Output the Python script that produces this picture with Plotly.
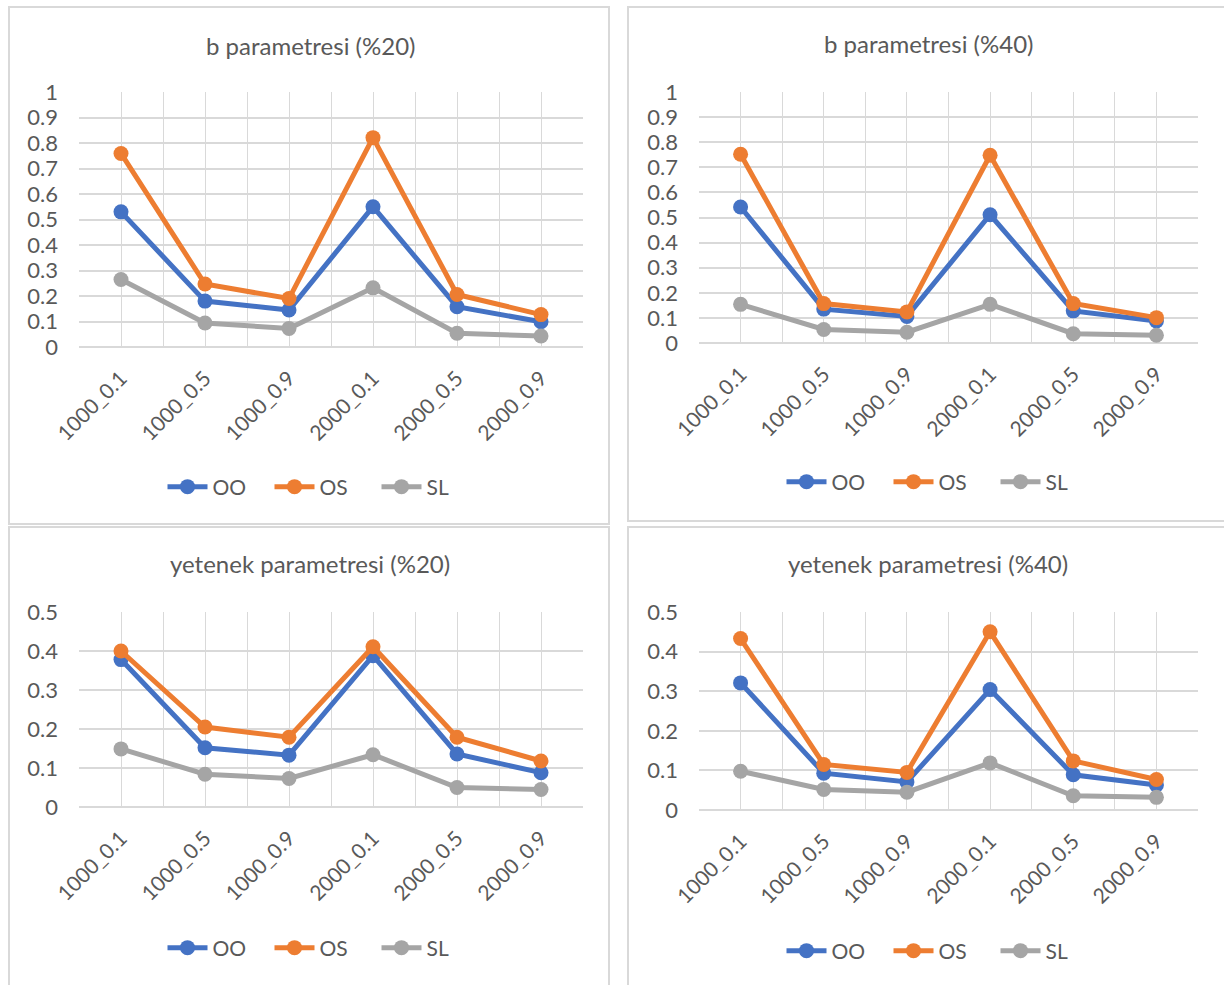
import plotly.graph_objects as go

# Sample size / ratio combinations on the x axis
categories = ["1000_0.1", "1000_0.5", "1000_0.9", "2000_0.1", "2000_0.5", "2000_0.9"]
series_names = ["OO", "OS", "SL"]

# b parametresi (%20)
b20_oo = [0.53, 0.18, 0.145, 0.55, 0.158, 0.099]
b20_os = [0.759, 0.247, 0.19, 0.821, 0.206, 0.127]
b20_sl = [0.265, 0.094, 0.073, 0.232, 0.054, 0.043]

# b parametresi (%40)
b40_oo = [0.542, 0.135, 0.106, 0.511, 0.128, 0.088]
b40_os = [0.752, 0.157, 0.124, 0.748, 0.157, 0.101]
b40_sl = [0.154, 0.054, 0.043, 0.154, 0.037, 0.031]

# yetenek parametresi (%20)
y20_oo = [0.378, 0.152, 0.133, 0.388, 0.136, 0.088]
y20_os = [0.400, 0.205, 0.179, 0.411, 0.179, 0.118]
y20_sl = [0.149, 0.084, 0.073, 0.134, 0.050, 0.045]

# yetenek parametresi (%40)
y40_oo = [0.321, 0.093, 0.071, 0.304, 0.089, 0.063]
y40_os = [0.433, 0.115, 0.095, 0.450, 0.124, 0.077]
y40_sl = [0.098, 0.052, 0.045, 0.119, 0.036, 0.032]

titles = ["b parametresi (%20)", "b parametresi (%40)",
          "yetenek parametresi (%20)", "yetenek parametresi (%40)"]
y_max = [1.0, 1.0, 0.5, 0.5]
panels = [
    (b20_oo, b20_os, b20_sl),
    (b40_oo, b40_os, b40_sl),
    (y20_oo, y20_os, y20_sl),
    (y40_oo, y40_os, y40_sl),
]

W, H = 1224, 985
COLORS = ["#4472C4", "#ED7D31", "#A5A5A5"]
TEXT = "#595959"
GRID = "#d9d9d9"
FONT = "Lato"

# pixel boxes of each plot area: (left, top, right, bottom)
plot_boxes = [
    (79, 92, 583, 347),
    (699, 92, 1198, 343),
    (79, 612, 583, 807),
    (699, 612, 1198, 810),
]
# chart frames: (left, top, right, bottom)
frames = [
    (9, 7, 609, 524),
    (628, 7, 1232, 521),
    (9, 527, 609, 995),
    (628, 527, 1232, 995),
]
title_pos = [(310, 45), (928, 44), (310, 563), (928, 563)]
legend_pos = [(323, 487), (942, 482), (323, 948), (942, 951)]


def px_x(v):
    return v / W


def px_y(v):
    return 1 - v / H


fig = go.Figure()
xs = list(range(len(categories)))
layout = {}
annotations = []
shapes = []

for i, (vals, ymax) in enumerate(zip(panels, y_max)):
    n = i + 1
    xa = "x" if n == 1 else f"x{n}"
    ya = "y" if n == 1 else f"y{n}"
    lg = "legend" if n == 1 else f"legend{n}"
    for name, data, color in zip(series_names, vals, COLORS):
        fig.add_trace(go.Scatter(
            x=xs, y=data, name=name, mode="lines+markers",
            line=dict(color=color, width=5),
            marker=dict(color=color, size=15),
            xaxis=xa, yaxis=ya, legend=lg, cliponaxis=False,
        ))
    l, t, r, b = plot_boxes[i]
    xkey = "xaxis" if n == 1 else f"xaxis{n}"
    ykey = "yaxis" if n == 1 else f"yaxis{n}"
    layout[xkey] = dict(
        domain=[px_x(l), px_x(r)], anchor=ya,
        range=[-0.5, len(categories) - 0.5],
        tickvals=xs, ticktext=categories, tickangle=-45,
        showgrid=True, gridcolor=GRID, gridwidth=1,
        minor=dict(tickvals=[k - 0.5 for k in range(len(categories) + 1)],
                   showgrid=True, gridcolor=GRID, gridwidth=1),
        zeroline=False, showline=False, ticks="",
        ticklabelstandoff=14, automargin=False,
        tickfont=dict(family=FONT, size=21, color=TEXT),
        fixedrange=True,
    )
    layout[ykey] = dict(
        domain=[px_y(b), px_y(t)], anchor=xa,
        range=[0, ymax], dtick=0.1,
        showgrid=True, gridcolor=GRID, gridwidth=1.5,
        zeroline=True, zerolinecolor=GRID, zerolinewidth=2,
        showline=False, ticks="",
        ticklabelstandoff=20, automargin=False,
        tickfont=dict(family=FONT, size=22, color=TEXT),
        fixedrange=True,
    )
    lx, ly = legend_pos[i]
    layout[lg] = dict(
        orientation="h", x=px_x(lx), y=px_y(ly),
        xanchor="center", yanchor="middle",
        font=dict(family=FONT, size=21, color=TEXT),
        itemwidth=40, entrywidth=52, bgcolor="rgba(0,0,0,0)",
    )
    tx, ty = title_pos[i]
    annotations.append(dict(
        text=titles[i], x=px_x(tx), y=px_y(ty), xref="paper", yref="paper",
        xanchor="center", yanchor="middle", showarrow=False,
        font=dict(family=FONT, size=24, color=TEXT),
    ))
    fl, ft, fr, fb = frames[i]
    shapes.append(dict(
        type="rect", xref="paper", yref="paper",
        x0=px_x(fl), x1=px_x(fr), y0=px_y(fb), y1=px_y(ft),
        line=dict(color=GRID, width=2), fillcolor="rgba(0,0,0,0)",
        layer="below",
    ))

fig.update_layout(
    width=W, height=H,
    margin=dict(l=0, r=0, t=0, b=0, autoexpand=False),
    paper_bgcolor="white", plot_bgcolor="white",
    annotations=annotations, shapes=shapes,
    font=dict(family=FONT, color=TEXT),
    **layout,
)

# page without the default body margin so the figure fills the window exactly
fig.write_html(
    "out.html",
    post_script="document.body.style.margin='0';document.body.style.overflow='hidden';",
)
